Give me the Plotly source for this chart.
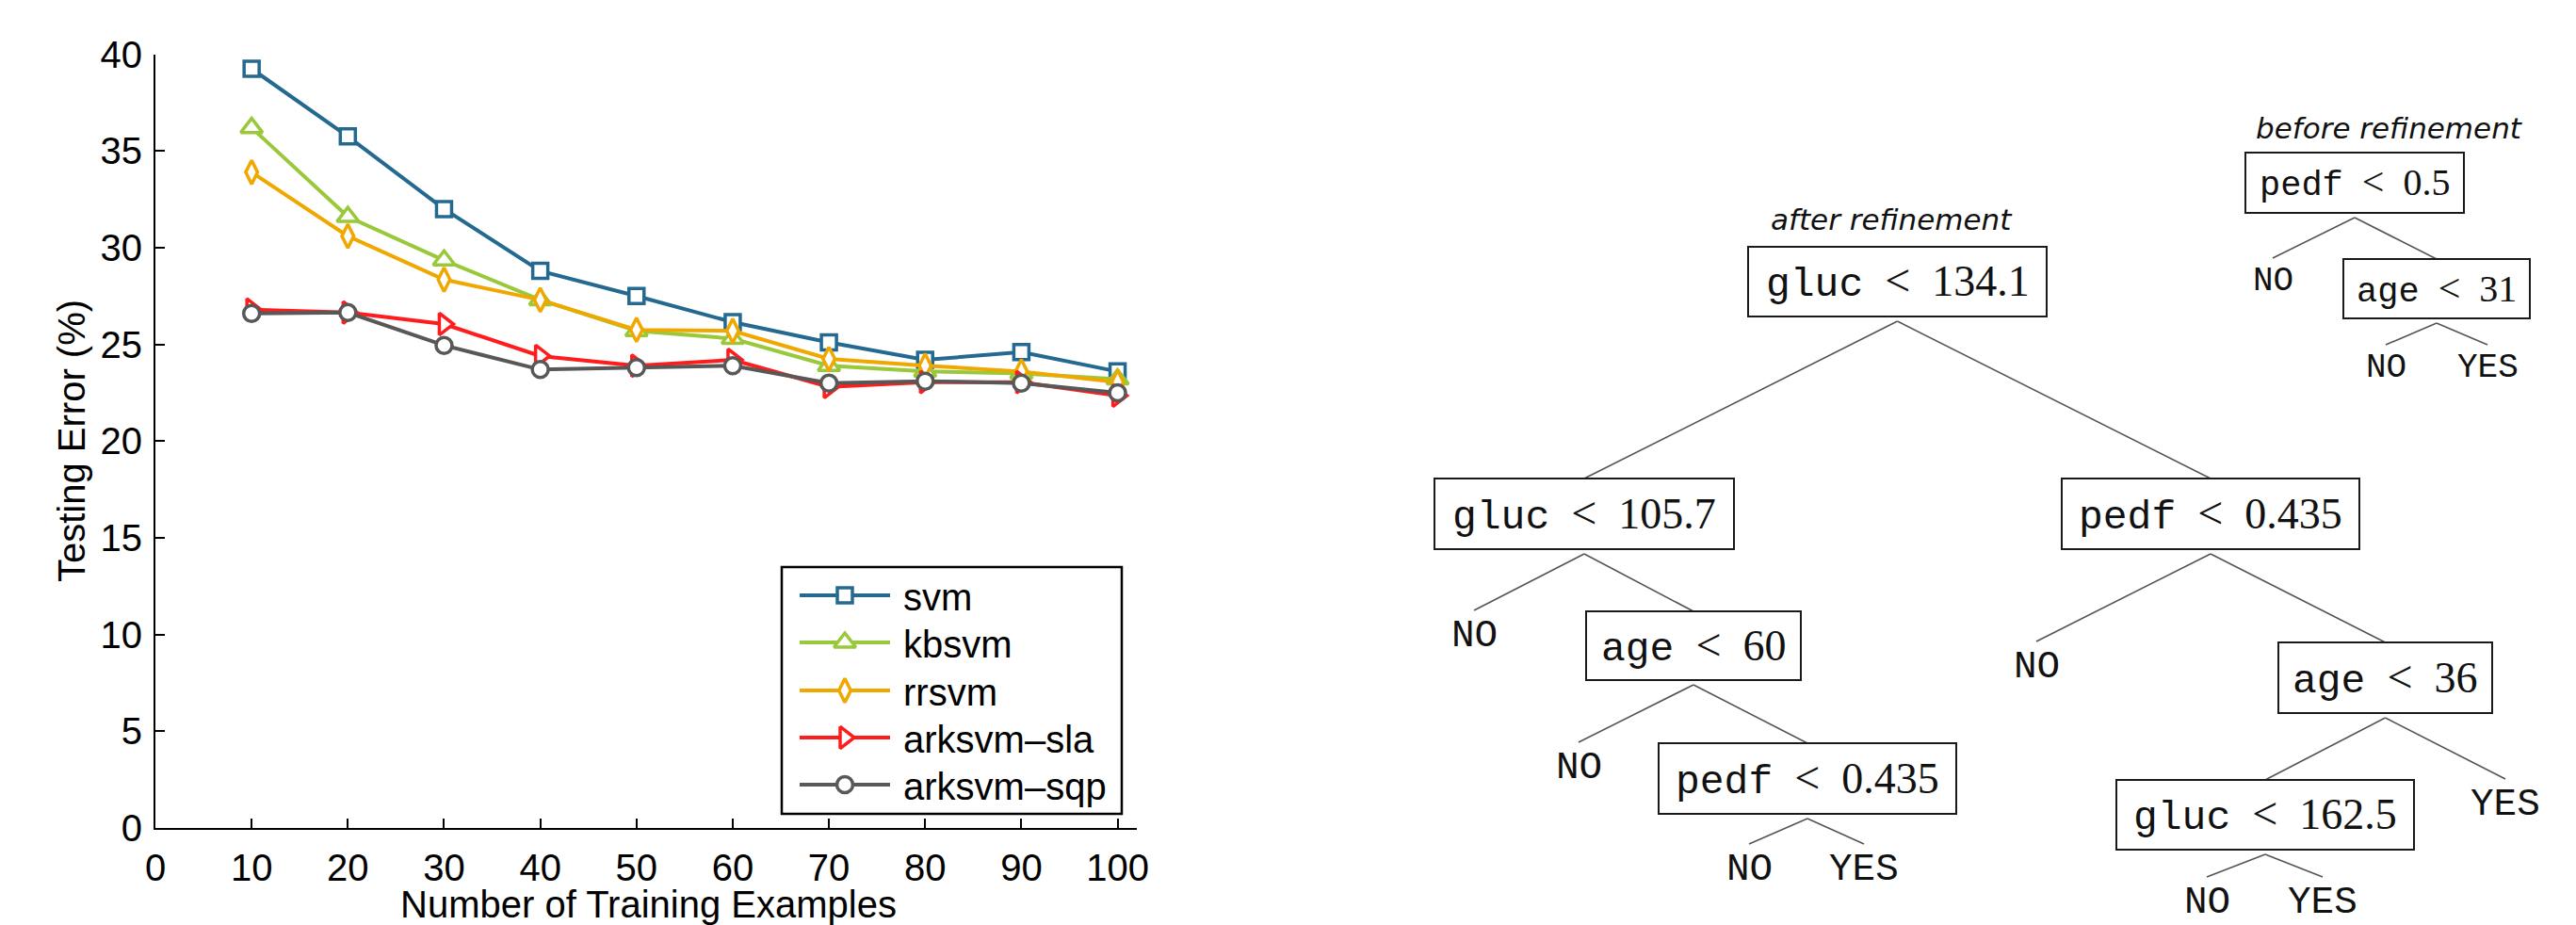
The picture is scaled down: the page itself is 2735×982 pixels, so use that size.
import plotly.graph_objects as go

# ---------------- data: line chart ----------------
n_train = [10, 20, 30, 40, 50, 60, 70, 80, 90, 100]
svm = [39.25, 35.75, 32.0, 28.8, 27.5, 26.15, 25.1, 24.2, 24.6, 23.6]
kbsvm = [36.2, 31.6, 29.35, 27.3, 25.7, 25.3, 23.9, 23.6, 23.5, 23.2]
rrsvm = [33.9, 30.6, 28.35, 27.3, 25.75, 25.7, 24.25, 23.9, 23.6, 23.05]
arksvm_sla = [26.8, 26.65, 26.05, 24.4, 23.9, 24.2, 22.8, 23.05, 23.05, 22.35]
arksvm_sqp = [26.6, 26.65, 24.95, 23.7, 23.8, 23.9, 23.0, 23.1, 23.0, 22.5]
series_names = ["svm", "kbsvm", "rrsvm", "arksvm–sla", "arksvm–sqp"]
x_ticks = [0, 10, 20, 30, 40, 50, 60, 70, 80, 90, 100]
y_ticks = [0, 5, 10, 15, 20, 25, 30, 35, 40]
x_title = "Number of Training Examples"
y_title = "Testing Error (%)"

# ---------------- data: decision trees ----------------
after_labels = ["gluc < 134.1", "gluc < 105.7", "pedf < 0.435", "NO", "age < 60",
                "NO", "age < 36", "NO", "pedf < 0.435", "gluc < 162.5", "YES",
                "NO", "YES", "NO", "YES"]
after_parents = [None, 0, 0, 1, 1, 2, 2, 4, 4, 6, 6, 8, 8, 9, 9]
before_labels = ["pedf < 0.5", "NO", "age < 31", "NO", "YES"]
before_parents = [None, 0, 0, 2, 2]
after_title = "after refinement"
before_title = "before refinement"

# ---------------- styles / layout (pixel space) ----------------
W, H = 2735, 982
colors = ["#24698f", "#99c93a", "#f0a800", "#ff1c1c", "#585858"]
symbols = ["square", "triangle-up", "diamond-tall", "triangle-right", "circle"]
msizes = [16, 20, 18, 20, 17]
all_series = [svm, kbsvm, rrsvm, arksvm_sla, arksvm_sqp]

# tree layout: (cx, cy, w, h) ; w=0 means leaf label
after_geom = [(2014.5, 299, 317, 74), (1682, 545.5, 318, 75), (2347, 545.5, 316, 75),
              (1565, 675, 0, 0), (1798, 685.5, 228, 73), (2162, 708, 0, 0),
              (2532.5, 719.5, 227, 75), (1676, 815, 0, 0), (1919, 826.5, 316, 75),
              (2405, 865, 316, 74), (2660, 854, 0, 0), (1857, 923, 0, 0),
              (1979, 923, 0, 0), (2343, 958, 0, 0), (2466, 958, 0, 0)]
before_geom = [(2500, 194, 232, 64), (2413, 298, 0, 0), (2587, 306.5, 198, 63),
               (2533, 390, 0, 0), (2641, 390, 0, 0)]

fig = go.Figure()

for name, vals, c, s, ms in zip(series_names, all_series, colors, symbols, msizes):
    fig.add_trace(go.Scatter(
        x=n_train, y=vals, mode="lines+markers", name=name, showlegend=False,
        line=dict(color=c, width=4),
        marker=dict(symbol=s, size=ms, color="white", line=dict(color=c, width=3.5)),
        xaxis="x", yaxis="y", hoverinfo="x+y+name"))

shapes = []
annotations = []
axis_font = dict(family="Liberation Sans", size=40, color="black")

# axis titles (placed in pixel space)
annotations.append(dict(x=688, y=960, xref="x2", yref="y2", text=x_title, showarrow=False,
                        xanchor="center", yanchor="middle", font=axis_font))
annotations.append(dict(x=76, y=468, xref="x2", yref="y2", text=y_title, showarrow=False,
                        xanchor="center", yanchor="middle", textangle=-90, font=axis_font))

# custom legend (pixel axes x2/y2)
leg_x0, leg_x1, leg_y0, leg_y1 = 830, 1191, 602, 864
shapes.append(dict(type="rect", xref="x2", yref="y2", x0=leg_x0, x1=leg_x1,
                   y0=leg_y0, y1=leg_y1, line=dict(color="black", width=2.5),
                   fillcolor="white", layer="below"))
rows = [632, 682, 733, 783, 833]
for name, c, s, ms, ry in zip(series_names, colors, symbols, msizes, rows):
    fig.add_trace(go.Scatter(x=[849, 945], y=[ry, ry], mode="lines",
                             line=dict(color=c, width=4), showlegend=False,
                             xaxis="x2", yaxis="y2", hoverinfo="skip"))
    fig.add_trace(go.Scatter(x=[897], y=[ry], mode="markers", showlegend=False,
                             marker=dict(symbol=s, size=ms, color="white",
                                         line=dict(color=c, width=3.5)),
                             xaxis="x2", yaxis="y2", hoverinfo="skip"))
    annotations.append(dict(x=957, y=ry + 2, xref="x2", yref="y2", text=name,
                            showarrow=False, xanchor="left", yanchor="middle",
                            font=dict(family="Liberation Sans", size=40, color="black")))

SP = "\u2002"


def node_html(label, var_size, num_size, op_size):
    if " < " in label:
        var, num = label.split(" < ")
        return (f'<span style="font-family:Liberation Mono;font-size:{var_size}px">{var}</span>'
                f'{SP}<span style="font-size:{op_size}px">&lt;</span>{SP}'
                f'<span style="font-size:{num_size}px">{num}</span>')
    return label


def draw_tree(labels, parents, geom, var_size, num_size, op_size, leaf_size, leaf_off):
    ex, ey = [], []
    for i, (lab, p) in enumerate(zip(labels, parents)):
        cx, cy, w, h = geom[i]
        if w > 0:
            shapes.append(dict(type="rect", xref="x2", yref="y2",
                               x0=cx - w / 2, x1=cx + w / 2, y0=cy - h / 2, y1=cy + h / 2,
                               line=dict(color="#1a1a1a", width=2)))
            annotations.append(dict(x=cx, y=cy, xref="x2", yref="y2",
                                    text=node_html(lab, var_size, num_size, op_size),
                                    showarrow=False, xanchor="center", yanchor="middle",
                                    font=dict(family="Liberation Serif", size=num_size,
                                              color="#111")))
            top = cy - h / 2
        else:
            annotations.append(dict(x=cx, y=cy, xref="x2", yref="y2", text=lab,
                                    showarrow=False, xanchor="center", yanchor="middle",
                                    font=dict(family="Liberation Mono", size=leaf_size,
                                              color="#111")))
            top = cy - leaf_off
        if p is not None:
            pcx, pcy, pw, ph = geom[p]
            ex += [pcx, cx, None]
            ey += [pcy + ph / 2 + 5, top, None]
    fig.add_trace(go.Scatter(x=ex, y=ey, mode="lines", line=dict(color="#555", width=1.6),
                             showlegend=False, xaxis="x2", yaxis="y2", hoverinfo="skip"))


draw_tree(after_labels, after_parents, after_geom, 43, 46, 48, 41, 27)
draw_tree(before_labels, before_parents, before_geom, 37, 40, 42, 36, 24)

annotations.append(dict(x=2008, y=233, xref="x2", yref="y2", text=f"<i>{after_title}</i>",
                        showarrow=False, xanchor="center", yanchor="middle",
                        font=dict(family="DejaVu Sans", size=31, color="#111")))
annotations.append(dict(x=2537, y=136, xref="x2", yref="y2", text=f"<i>{before_title}</i>",
                        showarrow=False, xanchor="center", yanchor="middle",
                        font=dict(family="DejaVu Sans", size=31, color="#111")))

fig.update_layout(
    width=W, height=H, autosize=False,
    margin=dict(l=0, r=0, t=0, b=0),
    paper_bgcolor="white", plot_bgcolor="rgba(0,0,0,0)",
    showlegend=False,
    xaxis=dict(domain=[165 / W, 1207 / W], range=[0, 102], tickvals=x_ticks,
               ticks="inside", ticklen=10, tickwidth=2, tickcolor="black",
               showline=True, linecolor="black", linewidth=2, showgrid=False,
               zeroline=False, tickfont=axis_font, anchor="y", automargin=False,
               ticklabelstandoff=6),
    yaxis=dict(domain=[1 - 879 / H, 1 - 57.6 / H], range=[0, 40], tickvals=y_ticks,
               ticks="inside", ticklen=10, tickwidth=2, tickcolor="black",
               showline=True, linecolor="black", linewidth=2, showgrid=False,
               zeroline=False, tickfont=axis_font, anchor="x", automargin=False,
               ticklabelstandoff=4),
    xaxis2=dict(domain=[0, 1], range=[0, W], visible=False, anchor="y2", fixedrange=True),
    yaxis2=dict(domain=[0, 1], range=[H, 0], visible=False, anchor="x2", fixedrange=True),
    shapes=shapes,
    annotations=annotations,
)

fig.write_html("out.html", config={"displayModeBar": False},
               post_script="document.body.style.margin='0px';document.body.style.overflow='hidden';")
